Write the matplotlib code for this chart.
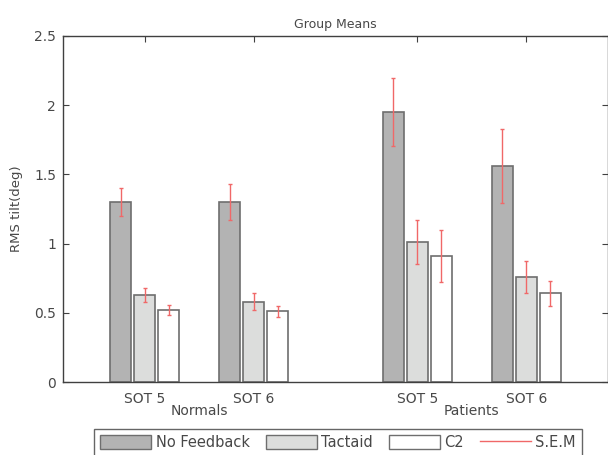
import numpy as np
import matplotlib
matplotlib.use("Agg")
import matplotlib.pyplot as plt
from matplotlib.patches import Patch
from matplotlib.lines import Line2D

plt.rcParams.update({"font.size": 10, "font.family": "DejaVu Sans"})

# data
groups = ["Normals", "Patients"]
conditions = ["SOT 5", "SOT 6", "SOT 5", "SOT 6"]
series = ["No Feedback", "Tactaid", "C2"]

no_feedback = [1.30, 1.30, 1.95, 1.56]
tactaid = [0.63, 0.58, 1.01, 0.76]
c2 = [0.52, 0.51, 0.91, 0.64]

sem_no_feedback = [0.10, 0.13, 0.245, 0.265]
sem_tactaid = [0.05, 0.06, 0.16, 0.115]
sem_c2 = [0.035, 0.04, 0.19, 0.09]

positions = np.array([1.0, 2.0, 3.5, 4.5])
fills = ["#b3b3b3", "#dcdddc", "#ffffff"]
edge = "#6e6e6e"
err_col = "#f06868"
txt = "#484848"

fig = plt.figure(figsize=(6.08, 4.55), dpi=100)
ax = fig.add_axes([0.1036, 0.1604, 0.8964, 0.7605])

width = 0.19
step = 0.22
means = [no_feedback, tactaid, c2]
sems = [sem_no_feedback, sem_tactaid, sem_c2]
for i, (vals, errs, fc) in enumerate(zip(means, sems, fills)):
    x = positions + (i - 1) * step
    ax.bar(x, vals, width=width, color=fc, edgecolor=edge, linewidth=1.2, zorder=2)
    ax.errorbar(x, vals, yerr=errs, fmt="none", ecolor=err_col, elinewidth=1.0,
                capsize=1.5, capthick=1.0, zorder=3)

ax.set_xlim(0.25, 5.25)
ax.set_ylim(0, 2.5)
ax.set_xticks(positions)
ax.set_xticklabels(conditions, color=txt)
ax.set_yticks([0, 0.5, 1, 1.5, 2, 2.5])
ax.set_yticklabels(["0", "0.5", "1", "1.5", "2", "2.5"], color=txt)
ax.tick_params(direction="in", top=True, right=True, length=4, color="#404040",
               labelsize=10)
ax.tick_params(axis="x", pad=7)
ax.tick_params(axis="y", pad=5)
for s in ax.spines.values():
    s.set_color("#404040")
    s.set_linewidth(1.0)

ax.set_title("Group Means", fontsize=9, color=txt, pad=6)
ax.set_ylabel("RMS tilt(deg)", fontsize=9.5, color=txt, labelpad=8)

# group labels under the tick labels
for g, (a, b) in zip(groups, [(0, 1), (2, 3)]):
    ax.text((positions[a] + positions[b]) / 2, -0.064, g, ha="center", va="top",
            color=txt, fontsize=10, transform=ax.get_xaxis_transform())

handles = [Patch(facecolor=fc, edgecolor=edge, linewidth=1.0) for fc in fills]
handles.append(Line2D([0], [0], color=err_col, linewidth=1.0))
leg = fig.legend(handles, series + ["S.E.M"], loc="upper center",
                 bbox_to_anchor=(338 / 608, 0.057), borderaxespad=0, ncol=4,
                 frameon=True, fancybox=False, handlelength=3.5, handleheight=1.1,
                 handletextpad=0.3, columnspacing=1.1, borderpad=0.4,
                 fontsize=10.5)
leg.get_frame().set_edgecolor("#404040")
leg.get_frame().set_linewidth(1.0)
for t in leg.get_texts():
    t.set_color(txt)

fig.savefig("out.png", dpi=100)
